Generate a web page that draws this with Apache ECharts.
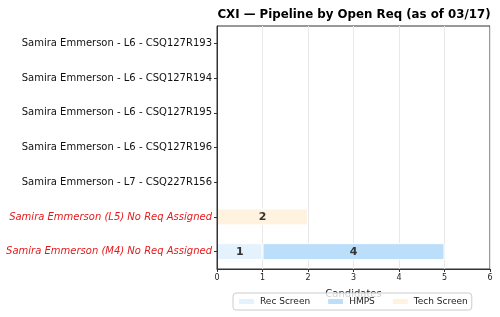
<!DOCTYPE html>
<html>
<head>
<meta charset="utf-8">
<script src="https://cdn.jsdelivr.net/npm/echarts@6/dist/echarts.min.js"></script>
<style>
html, body { margin: 0; padding: 0; background: #fff; }
#chart { width: 500px; height: 317px; }
</style>
</head>
<body>
<div id="chart"></div>
<script>
var reqs = [
	'Samira Emmerson - L6 - CSQ127R193',
	'Samira Emmerson - L6 - CSQ127R194',
	'Samira Emmerson - L6 - CSQ127R195',
	'Samira Emmerson - L6 - CSQ127R196',
	'Samira Emmerson - L7 - CSQ227R156',
	'Samira Emmerson (L5) No Req Assigned',
	'Samira Emmerson (M4) No Req Assigned'
];
var recScreen = [0, 0, 0, 0, 0, 0, 1];
var hmps = [0, 0, 0, 0, 0, 0, 4];
var techScreen = [0, 0, 0, 0, 0, 2, 0];
var xTicks = [0, 1, 2, 3, 4, 5, 6];

var FONT = 'DejaVu Sans';
var RED = '#e31a1c';

var makeSeries = function(name, data, color) {
	return {
		name: name,
		type: 'bar',
		stack: 'total',
		// zero-length segments are skipped so they don't paint over the axis
		data: data.map(function(v) { return v ? v : '-'; }),
		barWidth: 17,
		itemStyle: { color: color, borderColor: '#fff', borderWidth: 1 },
		label: {
			show: true,
			position: 'inside',
			fontFamily: FONT,
			fontWeight: 'bold',
			fontSize: 11,
			color: '#333'
		}
	};
};

var option = {
	animation: false,
	textStyle: { fontFamily: FONT },
	title: {
		text: 'CXI — Pipeline by Open Req (as of 03/17)',
		left: 349,
		textAlign: 'center',
		top: 4,
		textStyle: { fontFamily: FONT, fontWeight: 'bold', fontSize: 11.8, color: '#000' }
	},
	legend: {
		orient: 'horizontal',
		top: 293,
		left: 233,
		width: 262,
		itemWidth: 17,
		itemHeight: 7,
		itemGap: 16,
		padding: [4, 4],
		borderColor: '#ccc',
		borderWidth: 1,
		borderRadius: 3,
		backgroundColor: 'rgba(255,255,255,0.8)',
		z: 10,
		textStyle: { fontFamily: FONT, fontSize: 9, color: '#222' },
		data: ['Rec Screen', 'HMPS', 'Tech Screen']
	},
	grid: {
		left: 217,
		right: 10,
		top: 26,
		bottom: 48,
		show: true,
		borderColor: '#333',
		borderWidth: 1,
		outerBoundsMode: 'none',
		containLabel: false
	},
	xAxis: {
		type: 'value',
		min: 0,
		max: 6,
		interval: 1,
		name: 'Candidates',
		nameLocation: 'middle',
		nameGap: 20,
		nameTextStyle: { fontFamily: FONT, fontSize: 10, color: '#222' },
		axisLine: { show: true, lineStyle: { color: '#333' } },
		axisTick: { show: true, length: 3, lineStyle: { color: '#333' } },
		axisLabel: {
			fontFamily: FONT, fontSize: 8, color: '#222', margin: 5,
			formatter: function(v) { return xTicks.indexOf(v) >= 0 ? String(v) : ''; }
		},
		splitLine: { show: true, lineStyle: { color: '#e8e8e8' } }
	},
	yAxis: {
		type: 'category',
		inverse: true,
		data: reqs,
		z: 5,
		axisLine: { show: true, lineStyle: { color: '#333' } },
		axisTick: { show: true, alignWithLabel: true, length: 3, lineStyle: { color: '#333' } },
		axisLabel: {
			fontFamily: FONT,
			fontSize: 10,
			margin: 5,
			color: function(v) { return v.indexOf('No Req') >= 0 ? RED : '#111'; },
			formatter: function(v) { return v.indexOf('No Req') >= 0 ? '{i|' + v + '}' : v; },
			rich: { i: { fontStyle: 'italic', fontFamily: FONT, fontSize: 10, color: RED } }
		},
		splitLine: { show: false }
	},
	series: [
		makeSeries('Rec Screen', recScreen, '#e3f2fd'),
		makeSeries('HMPS', hmps, '#bbdefb'),
		makeSeries('Tech Screen', techScreen, '#fff3e0')
	]
};

var chart = echarts.init(document.getElementById('chart'));
chart.setOption(option);
</script>
</body>
</html>
